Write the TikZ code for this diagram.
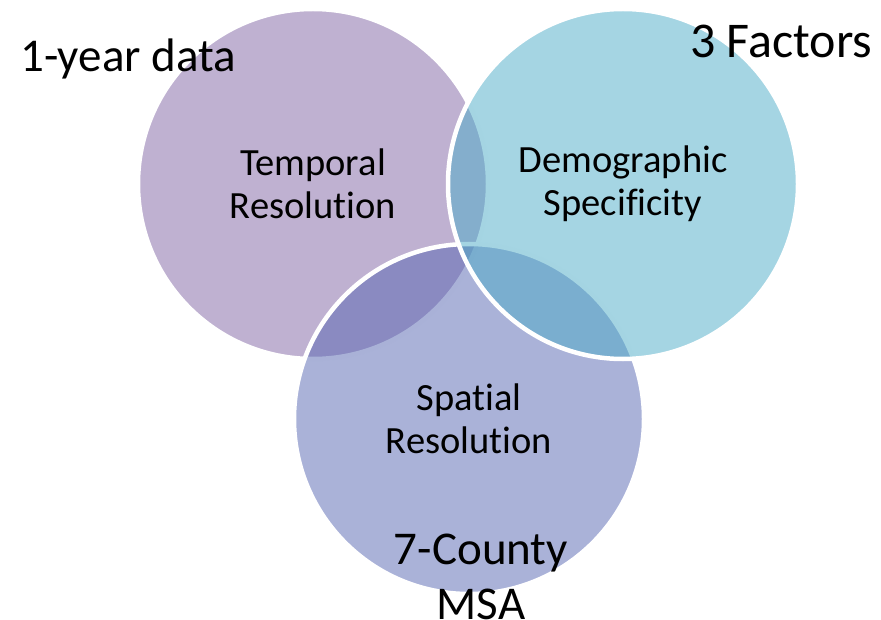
\documentclass[tikz,border=0pt]{standalone}
\usepackage{fontspec}
\setmainfont{Carlito}[Ligatures=NoCommon]
\definecolor{temporal}{RGB}{127,99,163}
\definecolor{spatial}{RGB}{85,101,177}
\definecolor{demographic}{RGB}{75,171,199}
\tikzset{
  set/.style={circle, draw=white, line width=4.5pt, fill opacity=0.5,
    text opacity=1, minimum size=350pt, inner sep=0pt, align=center,
    font=\fontsize{38.5}{43}\selectfont},
  note/.style={font=\fontsize{47}{55}\selectfont, align=center, inner sep=0pt}
}
\begin{document}
\begin{tikzpicture}[x=1pt,y=-1pt]
      \useasboundingbox (0,0) rectangle (881,620);
      \draw
        (313,184) node[set, fill=temporal] (temporal){Temporal\\Resolution}
        (469,419) node[set, fill=spatial] (spatial){Spatial\\Resolution}
        (623,184) node[set, fill=demographic] (demographic){Demographic\\Specificity};
      \draw
        (20,72) node[note, anchor=base west] (year){1-year data}
        (690,58) node[note, anchor=base west, font=\fontsize{50}{55}\selectfont] (factors){3 Factors}
        (481,577) node[note] (county){7-County\\MSA};
    \end{tikzpicture}
\end{document}
